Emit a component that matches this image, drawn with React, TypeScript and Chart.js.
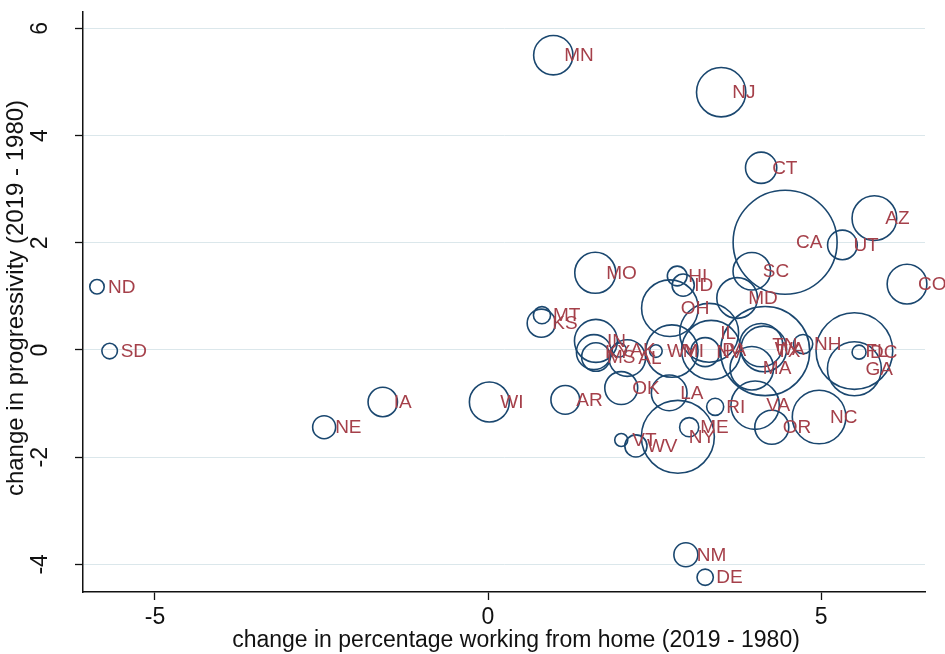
import React, { useEffect, useRef } from "react";
import { Chart, registerables } from "chart.js";

Chart.register(...registerables);

const states = [
  "MN", "NJ", "CT", "CA", "UT", "AZ", "CO", "SC", "MD", "MO",
  "HI", "ID", "OH", "MT", "KS", "ND", "SD", "IA", "NE", "WI",
  "AR", "OK", "LA", "RI", "ME", "VT", "WV", "NY", "VA", "OR",
  "NC", "NH", "DC", "GA", "FL", "TX", "MA", "IL", "NM", "DE",
  "PA", "MI", "TN", "WA", "IN", "KY", "MS", "AL", "AK", "WY", "NV",
];

// change in percentage working from home (2019 - 1980)
const wfhChange = [
  0.98, 3.50, 4.10, 4.46, 5.32, 5.80, 6.29, 3.96, 3.74, 1.61,
  2.84, 2.93, 2.73, 0.81, 0.80, -5.87, -5.68, -1.58, -2.46, 0.02,
  1.16, 2.00, 2.72, 3.41, 3.02, 2.00, 2.22, 2.85, 4.01, 4.26,
  4.97, 4.73, 5.57, 5.50, 5.50, 4.16, 3.96, 3.32, 2.97, 3.26,
  3.35, 2.76, 4.10, 4.14, 1.62, 1.59, 1.62, 2.09, 1.97, 2.52, 3.26,
];

// change in progressivity (2019 - 1980)
const progChange = [
  5.50, 4.81, 3.40, 2.01, 1.96, 2.46, 1.23, 1.47, 0.97, 1.44,
  1.38, 1.21, 0.78, 0.65, 0.50, 1.18, -0.02, -0.97, -1.44, -0.97,
  -0.93, -0.71, -0.80, -1.06, -1.44, -1.68, -1.79, -1.62, -1.03, -1.44,
  -1.25, 0.11, -0.04, -0.35, -0.02, -0.02, -0.34, 0.32, -3.82, -4.24,
  0.00, -0.02, 0.09, 0.02, 0.17, -0.04, -0.13, -0.15, 0.00, -0.02, -0.04,
];

// marker weight (population, millions)
const population = [
  5.64, 8.88, 3.57, 39.5, 3.21, 7.28, 5.76, 5.15, 6.05, 6.14,
  1.42, 1.79, 11.69, 1.07, 2.91, 0.76, 0.88, 3.16, 1.93, 5.82,
  3.02, 3.96, 4.65, 1.06, 1.34, 0.62, 1.79, 19.45, 8.54, 4.22,
  10.49, 1.36, 0.71, 10.62, 21.48, 29.0, 6.89, 12.67, 2.10, 0.97,
  12.8, 9.99, 6.83, 7.61, 6.73, 4.47, 2.98, 4.90, 0.73, 0.58, 3.08,
];

const xTicks = [-5, 0, 5];
const yTicks = [-4, -2, 0, 2, 4, 6];
const xTitle = "change in percentage working from home (2019 - 1980)";
const yTitle = "change in progressivity (2019 - 1980)";

const FONT = "'Liberation Sans', Arial, Helvetica, sans-serif";
const NAVY = "#1a476f";
const LABEL = "#a5404a";

export default function App() {
  const ref = useRef<HTMLCanvasElement | null>(null);

  useEffect(() => {
    if (!ref.current) return;
    const sizeScale = 52 / Math.sqrt(39.5);
    const data = states.map((s, i) => ({
      x: wfhChange[i],
      y: progChange[i],
      r: sizeScale * Math.sqrt(population[i]),
    }));

    const labelPlugin = {
      id: "stateLabels",
      afterDatasetsDraw(chart: any) {
        const ctx = chart.ctx;
        const meta = chart.getDatasetMeta(0);
        ctx.save();
        ctx.font = `19px ${FONT}`;
        ctx.fillStyle = LABEL;
        ctx.textAlign = "left";
        ctx.textBaseline = "middle";
        meta.data.forEach((el: any, i: number) => {
          ctx.fillText(states[i], el.x + 11, el.y + 1);
        });
        ctx.restore();
      },
      afterDraw(chart: any) {
        const ctx = chart.ctx;
        const ys = chart.scales.y;
        ctx.save();
        ctx.fillStyle = "#111";
        ctx.textAlign = "center";
        ctx.textBaseline = "middle";
        ctx.font = `23px ${FONT}`;
        ys.ticks.forEach((t: any) => {
          const py = ys.getPixelForValue(t.value);
          ctx.save();
          ctx.translate(41, py);
          ctx.rotate(-Math.PI / 2);
          ctx.fillText(String(t.value), 0, 0);
          ctx.restore();
        });
        ctx.font = `24px ${FONT}`;
        const midY = (chart.chartArea.top + chart.chartArea.bottom) / 2;
        ctx.save();
        ctx.translate(16, midY - 4);
        ctx.rotate(-Math.PI / 2);
        ctx.fillText(yTitle, 0, 0);
        ctx.restore();
        ctx.font = `23px ${FONT}`;
        ctx.fillText(xTitle, (chart.chartArea.left + chart.chartArea.right) / 2 + 12, 641);
        ctx.restore();
      },
    };

    const chart = new Chart(ref.current, {
      type: "bubble",
      data: {
        datasets: [
          {
            data,
            borderColor: NAVY,
            backgroundColor: "rgba(0,0,0,0)",
            borderWidth: 1.6,
            hoverRadius: 0,
            clip: false as any,
          },
        ],
      },
      options: {
        responsive: false,
        animation: false,
        devicePixelRatio: 1,
        layout: { autoPadding: false, padding: { top: 12, right: 20, left: 0, bottom: 0 } } as any,
        plugins: {
          legend: { display: false },
          tooltip: { enabled: false },
        },
        scales: {
          x: {
            type: "linear",
            min: -6.08,
            max: 6.56,
            afterBuildTicks: (s: any) => {
              s.ticks = xTicks.map((v) => ({ value: v }));
            },
            afterFit: (s: any) => {
              s.height = 62;
            },
            grid: {
              display: true,
              drawOnChartArea: false,
              drawTicks: true,
              tickLength: 8,
              tickColor: "#111",
              tickWidth: 1.3,
            },
            border: { display: true, color: "#111", width: 1.5 },
            ticks: {
              color: "#111",
              font: { family: FONT, size: 23 },
              padding: 4,
              maxRotation: 0,
              callback: (v: any) => String(v),
            },
            title: { display: false },
          },
          y: {
            type: "linear",
            min: -4.515,
            max: 6.306,
            afterBuildTicks: (s: any) => {
              s.ticks = yTicks.map((v) => ({ value: v }));
            },
            afterFit: (s: any) => {
              s.width = 83;
            },
            grid: {
              display: true,
              drawOnChartArea: true,
              color: "#dbe7eb",
              lineWidth: 1,
              drawTicks: true,
              tickLength: 8,
              tickColor: "#111",
              tickWidth: 1.3,
            },
            border: { display: true, color: "#111", width: 1.5 },
            ticks: { display: false },
            title: { display: false },
          },
        },
      },
      plugins: [labelPlugin],
    });

    return () => chart.destroy();
  }, []);

  return (
    <div style={{ position: "absolute", left: 0, top: 0, width: 945, height: 654, background: "#fff" }}>
      <canvas ref={ref} width={945} height={654} />
    </div>
  );
}
